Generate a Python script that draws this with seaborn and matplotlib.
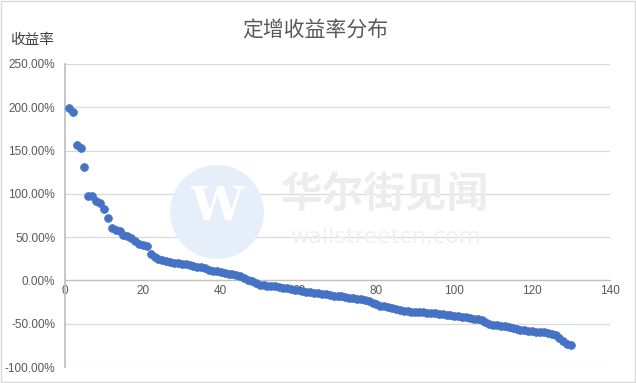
import numpy as np
import pandas as pd
import matplotlib
matplotlib.use("Agg")
import matplotlib.pyplot as plt
from matplotlib.patches import Ellipse, Rectangle
from matplotlib.ticker import FuncFormatter
import seaborn as sns

sns.set_theme(style="white")
plt.rcParams['font.family'] = ['Noto Sans CJK SC', 'DejaVu Sans']

# 定增收益率 (%), 已按从高到低排序
returns = [
    199, 194, 157, 153, 131, 98, 98, 92, 89, 83,
    72, 60, 58, 57, 53, 51, 49, 46, 42, 41,
    40, 30, 27, 25, 24, 22, 21, 20.5, 20, 19,
    18.5, 17.5, 16.5, 16, 15, 14, 12.5, 11, 10.5, 10,
    9, 8, 7.5, 6.5, 5, 3, 1, -1, -3.5, -5,
    -5.5, -6, -6.5, -7, -7.5, -8.5, -9, -10, -11, -11.5,
    -12, -13, -13.5, -14.5, -15, -15.5, -16, -16.5, -17.5, -18,
    -18.5, -19, -20, -20.5, -21, -21.5, -22.5, -24, -26, -27.5,
    -29, -30, -31, -32, -33, -34, -35, -35.5, -36, -36.5,
    -37, -37, -37.5, -38, -38, -38.5, -39, -40, -40.5, -41,
    -41.5, -42, -42.5, -43, -44, -45, -46, -48, -50, -51,
    -52, -52.5, -53, -54, -55, -56, -57, -57.5, -58, -58.5,
    -59, -59.5, -60, -60.5, -61.5, -63, -66, -70, -73, -75,
]
rank = list(range(1, len(returns) + 1))
x_ticks = [0, 20, 40, 60, 80, 100, 120, 140]
y_ticks = [-100, -50, 0, 50, 100, 150, 200, 250]

df = pd.DataFrame({"rank": rank, "ret": returns})

grey = "#595959"
fig = plt.figure(figsize=(6.36, 3.83), dpi=100)
ax = fig.add_axes([65 / 636, 16 / 383, 545 / 636, 303 / 383])

# watermark
fig.patches.append(Ellipse((217 / 636, 1 - 212 / 383), 94 / 636, 94 / 383, transform=fig.transFigure,
                           facecolor="#e6eef9", edgecolor="none", zorder=0.5, figure=fig))
fig.text(217 / 636, 1 - 207 / 383, "W", fontsize=34, color="white", ha="center", va="center",
         family="DejaVu Serif", fontweight="bold", zorder=0.6)
fig.text(385 / 636, 1 - 195 / 383, "华尔街见闻", fontsize=30, color="#ececec",
         ha="center", va="center", fontweight="bold", zorder=0.6)
fig.text(385 / 636, 1 - 237 / 383, "wallstreetcn.com", fontsize=16, color="#f0f0f0",
         ha="center", va="center", family="DejaVu Sans", zorder=0.6)
ax.set_facecolor("none")

sns.scatterplot(data=df, x="rank", y="ret", ax=ax, color="#4472C4",
                s=32, edgecolor="#4472C4", linewidth=0.5, zorder=3, legend=False)

ax.set_xlim(0, 140)
ax.set_ylim(-100, 250)
ax.set_xticks(x_ticks)
ax.set_yticks(y_ticks)
ax.yaxis.set_major_formatter(FuncFormatter(lambda v, p: f"{v:.2f}%"))
ax.grid(axis="y", color="#d9d9d9", linewidth=0.9)
ax.grid(axis="x", visible=False)
ax.set_axisbelow(True)

for s in ["top", "right"]:
    ax.spines[s].set_visible(False)
ax.spines["left"].set_color("#bfbfbf")
ax.spines["bottom"].set_position(("data", 0))
ax.spines["bottom"].set_color("#bfbfbf")
ax.spines["bottom"].set_linewidth(0.9)

ax.tick_params(axis="y", length=4, color="#bfbfbf", labelsize=8.5, labelcolor=grey, pad=3)
ax.tick_params(axis="x", length=0, labelsize=8.5, labelcolor=grey, pad=3)
for lab in ax.get_xticklabels() + ax.get_yticklabels():
    lab.set_family(["Liberation Sans", "DejaVu Sans"])
ax.set_xlabel("")
ax.set_ylabel("")

fig.text(315 / 636, 1 - 31 / 383, "定增收益率分布", fontsize=15,
         color=grey, ha="center", va="center")
fig.text(10 / 636, 1 - 40 / 383, "收益率", fontsize=10.5, color="#404040",
         ha="left", va="center")

fig.patches.append(Rectangle((0.001, 0.002), 0.997, 0.995, transform=fig.transFigure,
                             fill=False, edgecolor="#d9d9d9", linewidth=1, figure=fig))

fig.savefig("out.png", dpi=100, facecolor="white")
